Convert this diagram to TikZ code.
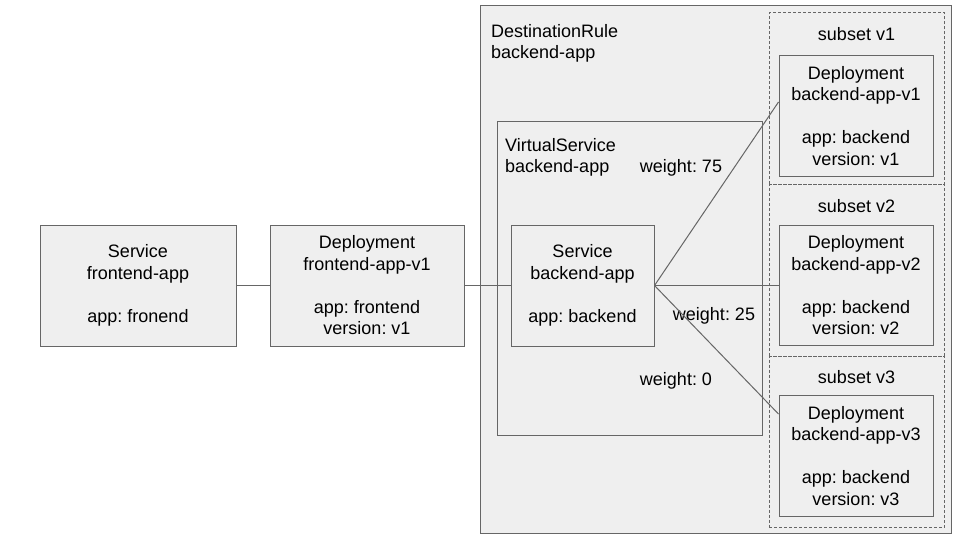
\documentclass[tikz,border=0pt]{standalone}
\usepackage{fontspec}
\setmainfont{Liberation Sans}
\frenchspacing

\definecolor{boxfill}{HTML}{EFEFEF}
\definecolor{boxline}{HTML}{666666}

\tikzset{
  every node/.style={font=\fontsize{18}{21.5}\selectfont,inner sep=0pt},
  box/.style={draw=boxline,fill=boxfill,line width=1pt,align=center},
  subsetbox/.style={draw=boxline,line width=1pt,dash pattern=on 3pt off 2pt},
  caption/.style={align=left,anchor=north west},
  weight/.style={anchor=base},
  link/.style={draw=boxline,line width=1pt},
}

\begin{document}
\begin{tikzpicture}[x=1pt,y=-1pt]
\useasboundingbox (0,0) rectangle (960,540);

  % destination rule and virtual service
  \node[box,minimum width=471pt,minimum height=527pt] (dr) at (715.5,269.5) {};
  \node[caption] (drlabel) at (491,24) {DestinationRule\\backend-app};
  \node[box,minimum width=265pt,minimum height=313pt] (vs) at (629.5,278.5) {};
  \node[caption] (vslabel) at (505,138) {VirtualService\\backend-app};
  %
  \foreach \v/\sy/\dy in {1/98.75/116, 2/270.25/285.5, 3/441.75/456} {
    \node[subsetbox,minimum width=175pt,minimum height=171.5pt] (s\v) at (856.5,\sy) {};
    \node[anchor=base] (s\v label) at (856.5,\sy-58.25) {subset v\v};
    \node[box,minimum width=154pt,minimum height=120.5pt] (d\v) at (856,\dy)
      {Deployment\\backend-app-v\v\\[21.5pt]app: backend\\version: v\v};
  }
  %
  \node[box,minimum width=196pt,minimum height=121pt] (sf) at (138,285.5)
    {Service\\frontend-app\\[21.5pt]app: fronend};
  \node[box,minimum width=194pt,minimum height=121pt] (df) at (367,285.5)
    {Deployment\\frontend-app-v1\\[21.5pt]app: frontend\\version: v1};
  \node[box,minimum width=143pt,minimum height=121pt] (sb) at (582.5,285.5)
    {Service\\backend-app\\[21.5pt]app: backend};

  \node[weight] (w75) at (681,173) {weight: 75};
  \node[weight] (w25) at (714,320) {weight: 25};
  \node[weight] (w0) at (676,385) {weight: 0};

  \draw[link] (sf) -- (df);
  \draw[link] (df) -- (sb);
  \draw[link] (sb.east) -- ([yshift=14pt]d1.west);
  \draw[link] (sb.east) -- (d2.west);
  \draw[link] (sb.east) -- ([yshift=42pt]d3.west);
\end{tikzpicture}
\end{document}
